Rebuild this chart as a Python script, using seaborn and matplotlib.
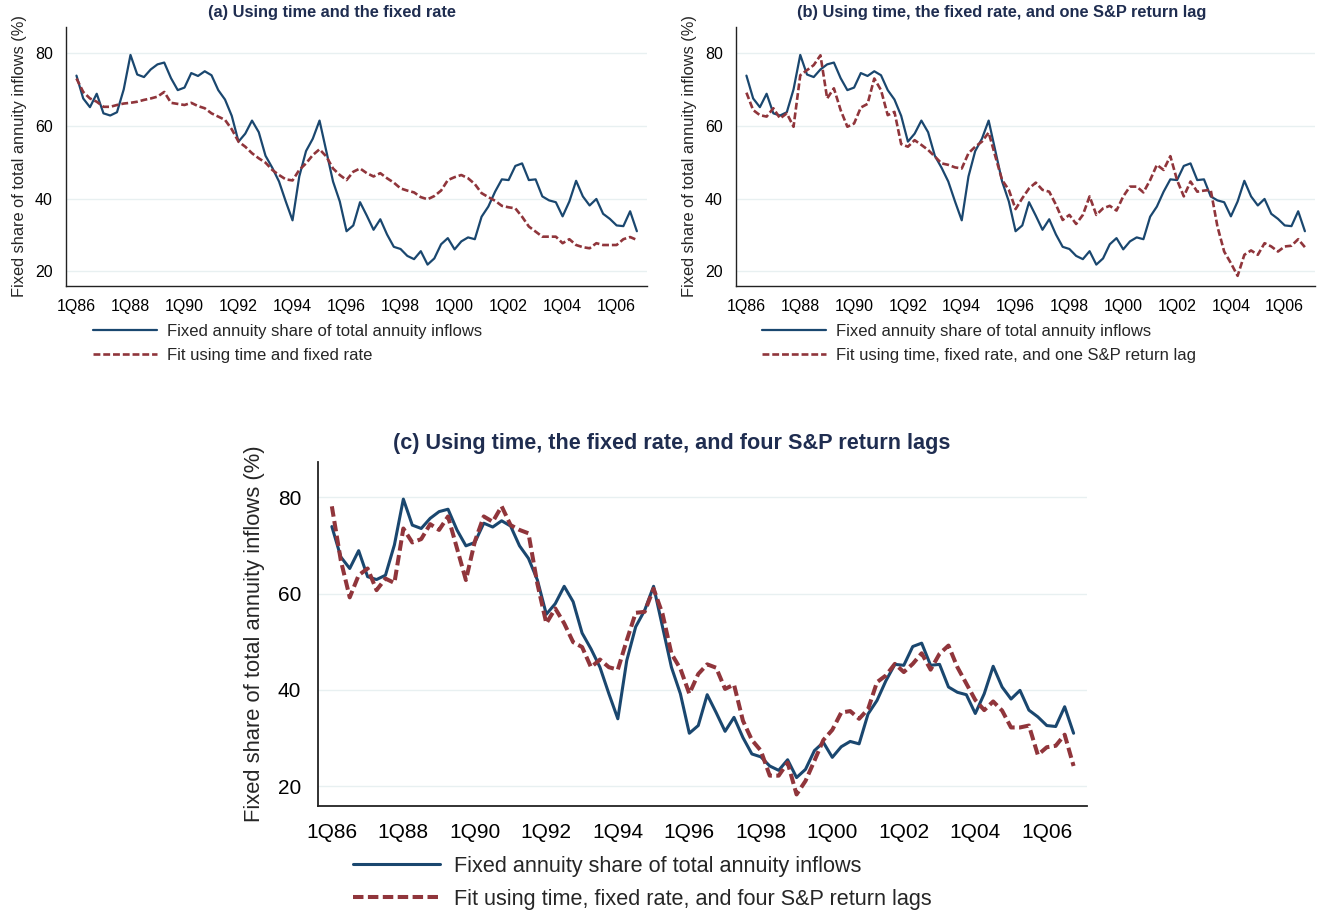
import numpy as np
import pandas as pd
import matplotlib
matplotlib.use("Agg")
import matplotlib.pyplot as plt
import seaborn as sns

# Quartalsdaten 1Q86 - 4Q06
years = ['86', '87', '88', '89', '90', '91', '92', '93', '94', '95', '96',
         '97', '98', '99', '00', '01', '02', '03', '04', '05', '06']
quarters = [f"{q}Q{y}" for y in years for q in range(1, 5)]

tick_labels = ['1Q86', '1Q88', '1Q90', '1Q92', '1Q94', '1Q96',
               '1Q98', '1Q00', '1Q02', '1Q04', '1Q06']

actual = [73.9, 67.6, 65.2, 68.9, 63.5, 62.9, 63.8, 70.1,
          79.6, 74.2, 73.5, 75.6, 77.0, 77.5, 73.2, 69.9,
          70.6, 74.6, 73.8, 75.1, 74.0, 69.9, 67.3, 62.8,
          55.7, 57.9, 61.5, 58.3, 51.8, 48.5, 44.7, 39.2,
          34.0, 46.1, 53.1, 56.5, 61.5, 53.1, 44.7, 39.2,
          31.0, 32.6, 39.0, 35.3, 31.4, 34.3, 30.1, 26.7,
          26.1, 24.2, 23.3, 25.5, 21.8, 23.5, 27.4, 29.1,
          26.0, 28.2, 29.3, 28.8, 35.0, 37.8, 41.9, 45.3,
          45.1, 49.0, 49.7, 45.1, 45.3, 40.6, 39.5, 39.0,
          35.1, 39.2, 44.9, 40.6, 38.1, 39.9, 35.8, 34.4,
          32.6, 32.4, 36.5, 31.0]

fit_a = [73.1, 69.4, 67.6, 66.7, 65.3, 65.3, 65.8, 66.2,
         66.4, 66.7, 67.2, 67.6, 68.1, 69.4, 66.4, 66.1,
         65.8, 66.4, 65.5, 64.9, 63.5, 62.6, 61.7, 59.1,
         55.7, 54.3, 52.5, 51.1, 49.9, 47.9, 46.5, 45.3,
         45.0, 47.9, 49.7, 52.0, 53.6, 51.6, 48.3, 46.5,
         45.1, 47.4, 48.3, 47.0, 46.1, 47.0, 45.6, 44.4,
         42.8, 42.2, 41.7, 40.4, 39.8, 40.7, 42.2, 45.1,
         45.9, 46.5, 45.6, 44.0, 41.5, 40.4, 39.4, 38.0,
         37.6, 37.3, 35.0, 32.3, 30.9, 29.5, 29.5, 29.5,
         27.7, 28.8, 27.2, 26.6, 26.3, 27.7, 27.2, 27.2,
         27.2, 28.8, 29.4, 28.6]

fit_b = [69.2, 64.4, 63.0, 62.6, 64.9, 62.1, 63.5, 59.8,
         74.0, 75.4, 76.8, 79.5, 67.6, 70.4, 64.4, 59.8,
         60.7, 65.1, 66.1, 73.1, 69.9, 63.0, 63.9, 55.0,
         54.3, 56.1, 54.8, 53.4, 51.6, 49.7, 49.3, 48.6,
         48.3, 52.5, 54.3, 55.7, 58.2, 51.6, 45.1, 42.4,
         37.1, 40.1, 42.8, 44.4, 42.4, 41.9, 38.3, 34.1,
         35.5, 33.0, 35.5, 40.6, 35.5, 37.3, 38.0, 36.7,
         40.6, 43.3, 43.3, 41.7, 45.1, 49.3, 47.9, 51.7,
         45.1, 40.6, 44.7, 41.9, 42.2, 42.4, 32.3, 25.4,
         22.2, 18.7, 24.5, 25.7, 24.5, 27.7, 26.8, 25.4,
         26.8, 27.0, 28.8, 26.6]

fit_c = [78.1, 66.9, 59.2, 63.8, 65.2, 60.7, 63.1, 62.2,
         73.5, 70.6, 71.3, 74.4, 73.2, 76.0, 69.4, 62.8,
         70.8, 76.0, 74.9, 78.1, 74.2, 73.2, 72.5, 62.0,
         53.8, 56.9, 53.8, 49.9, 48.9, 44.7, 46.3, 44.7,
         44.2, 50.3, 56.0, 56.2, 61.0, 55.8, 47.5, 44.4,
         39.2, 43.3, 45.3, 44.6, 40.2, 41.1, 33.6, 29.6,
         27.4, 22.2, 22.2, 24.9, 18.3, 21.1, 25.3, 29.6,
         31.7, 35.3, 35.6, 34.0, 36.0, 41.6, 43.0, 45.4,
         43.7, 45.4, 47.6, 44.2, 47.5, 49.2, 44.7, 41.3,
         37.9, 35.8, 37.6, 35.7, 32.2, 32.2, 32.6, 26.5,
         28.1, 28.4, 30.7, 24.2]

actual_label = 'Fixed annuity share of total annuity inflows'
label_a = 'Fit using time and fixed rate'
label_b = 'Fit using time, fixed rate, and one S&P return lag'
label_c = 'Fit using time, fixed rate, and four S&P return lags'

BLUE = '#1a476f'
RED = '#90353b'
TITLE_COLOR = '#1f2d50'

sns.set_style("white")
plt.rcParams['font.family'] = ['Liberation Sans', 'DejaVu Sans']

W, H = 1317, 913
fig = plt.figure(figsize=(W / 100, H / 100), dpi=100)


def px_axes(left, top, right, bottom):
    return fig.add_axes([left / W, 1 - bottom / H, (right - left) / W, (bottom - top) / H])


def draw_panel(ax, fit, fit_label, lw_a, lw_f, fs_tick, fs_ylab, spine_lw, pad, labelpad):
    df = pd.DataFrame({'t': np.arange(len(quarters)), 'actual': actual, 'fit': fit})
    sns.lineplot(data=df, x='t', y='actual', ax=ax, color=BLUE, lw=lw_a,
                 label=actual_label)
    sns.lineplot(data=df, x='t', y='fit', ax=ax, color=RED, lw=lw_f,
                 dashes=False, label=fit_label)
    ax.lines[1].set_dashes((2.6, 1.1))
    ax.set_xlim(-1.55, 84.5)
    ax.set_ylim(15.9, 87.3)
    ax.set_yticks([20, 40, 60, 80])
    ax.set_xticks(np.arange(0, 84, 8))
    ax.set_xticklabels(tick_labels)
    ax.grid(axis='y', color='#e8f0f1', lw=1)
    ax.set_axisbelow(True)
    for s in ['top', 'right']:
        ax.spines[s].set_visible(False)
    for s in ['left', 'bottom']:
        ax.spines[s].set_color('#222222')
        ax.spines[s].set_linewidth(spine_lw)
    ax.tick_params(axis='both', direction='out', length=5, width=spine_lw,
                   labelsize=fs_tick, colors='#222222', labelcolor='black', pad=pad)
    ax.set_xlabel('')
    ax.set_ylabel('Fixed share of total annuity inflows (%)', fontsize=fs_ylab,
                  labelpad=labelpad)
    handles, labels = ax.get_legend_handles_labels()
    ax.get_legend().remove()
    return handles, labels


# (a)
ax_a = px_axes(66, 27, 647, 286)
h, l = draw_panel(ax_a, fit_a, label_a, 1.6, 1.9, 11.5, 11.8, 1.0, 4.5, 6)
fig.text(332 / W, 1 - 13 / H, '(a) Using time and the fixed rate', ha='center', va='center',
         fontsize=11.8, fontweight='bold', color=TITLE_COLOR)
fig.legend(h, l, loc='upper left', bbox_to_anchor=(93 / W, 1 - 324 / H), frameon=False,
           fontsize=12, handlelength=3.85, handletextpad=0.6, labelspacing=0.55,
           borderpad=0, borderaxespad=0)

# (b)
ax_b = px_axes(736, 27, 1315, 286)
h, l = draw_panel(ax_b, fit_b, label_b, 1.6, 1.9, 11.5, 11.8, 1.0, 4.5, 6)
fig.text(1002 / W, 1 - 13 / H, '(b) Using time, the fixed rate, and one S&P return lag',
         ha='center', va='center', fontsize=11.8, fontweight='bold', color=TITLE_COLOR)
fig.legend(h, l, loc='upper left', bbox_to_anchor=(762 / W, 1 - 324 / H), frameon=False,
           fontsize=12, handlelength=3.85, handletextpad=0.6, labelspacing=0.55,
           borderpad=0, borderaxespad=0)

# (c)
ax_c = px_axes(318, 462, 1087, 806)
h, l = draw_panel(ax_c, fit_c, label_c, 2.2, 2.9, 15, 15.8, 1.3, 7, 9)
fig.text(672 / W, 1 - 443 / H, '(c) Using time, the fixed rate, and four S&P return lags',
         ha='center', va='center', fontsize=15.6, fontweight='bold', color=TITLE_COLOR)
fig.legend(h, l, loc='upper left', bbox_to_anchor=(353 / W, 1 - 856 / H), frameon=False,
           fontsize=15.6, handlelength=4.0, handletextpad=0.65, labelspacing=0.55,
           borderpad=0, borderaxespad=0)

fig.savefig('out.png', dpi=100)
